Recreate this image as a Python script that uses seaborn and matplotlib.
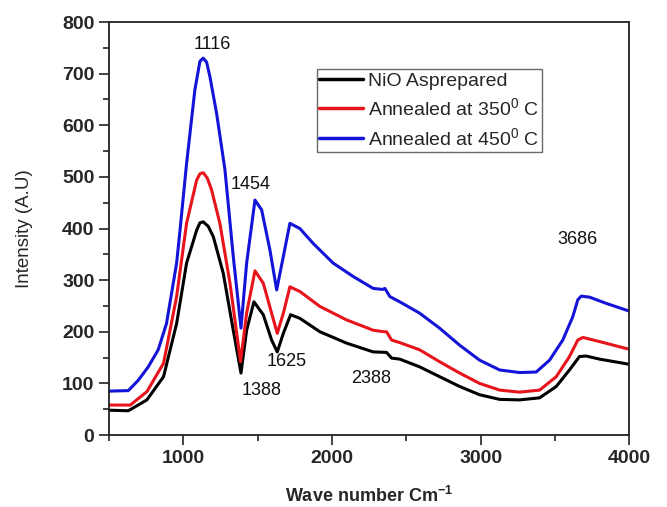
import matplotlib
matplotlib.use("Agg")
import matplotlib.pyplot as plt
import seaborn as sns
import pandas as pd
from matplotlib.ticker import MultipleLocator, FixedLocator

# ---- data ----
x_asprep = [500, 630, 755, 867, 955, 1022, 1090, 1112, 1134, 1168, 1202, 1269, 1336, 1388, 1426,
            1475, 1538, 1594, 1632, 1673, 1722, 1784, 1919, 2098, 2277, 2367, 2401, 2456, 2590,
            2724, 2859, 2993, 3128, 3262, 3397, 3509, 3598, 3665, 3710, 3800, 4000]
y_asprep = [48, 47, 68, 113, 216, 333, 397, 411, 413, 404, 384, 313, 203, 120, 203,
            258, 233, 184, 161, 197, 233, 226, 200, 178, 161, 160, 149, 147, 132,
            113, 94, 78, 69, 68, 72, 94, 126, 152, 153, 147, 137]

x_350 = [500, 643, 755, 867, 955, 1022, 1090, 1112, 1134, 1161, 1190, 1246, 1314, 1385, 1426,
         1482, 1538, 1594, 1632, 1673, 1717, 1784, 1919, 2098, 2277, 2350, 2367, 2401, 2456,
         2590, 2724, 2859, 2993, 3128, 3262, 3397, 3509, 3598, 3654, 3688, 3800, 4000]
y_350 = [58, 58, 84, 139, 268, 410, 494, 506, 508, 498, 475, 410, 294, 142, 236,
         318, 294, 236, 197, 236, 287, 278, 249, 223, 203, 200, 200, 184, 179,
         165, 142, 120, 100, 87, 83, 87, 113, 152, 184, 189, 181, 166]

x_450 = [500, 630, 697, 764, 831, 887, 955, 978, 1022, 1078, 1112, 1134, 1157, 1179, 1224,
         1280, 1336, 1388, 1426, 1482, 1527, 1583, 1628, 1673, 1717, 1784, 1874, 2008, 2143,
         2277, 2340, 2356, 2390, 2456, 2590, 2724, 2859, 2993, 3128, 3262, 3374, 3464, 3553,
         3620, 3654, 3677, 3733, 3845, 4000]
y_450 = [85, 86, 106, 132, 165, 216, 333, 397, 526, 669, 724, 730, 722, 694, 623,
         514, 346, 207, 333, 455, 436, 358, 281, 346, 410, 400, 371, 333, 307,
         284, 282, 284, 268, 258, 236, 207, 174, 145, 126, 121, 122, 145, 184,
         229, 262, 269, 267, 255, 240]

series_names = ["NiO Asprepared", r"Annealed at 350$^{0}$ C", r"Annealed at 450$^{0}$ C"]
series_colors = ["#000000", "#e8141c", "#1414d8"]

peak_labels = ["1116", "1454", "1388", "1625", "2388", "3686"]
peak_label_x = [1197, 1452, 1526, 1698, 2265, 3652]
peak_label_y = [756, 486, 87, 142, 110, 378]

x_ticks = [1000, 2000, 3000, 4000]
y_ticks = [0, 100, 200, 300, 400, 500, 600, 700, 800]

# ---- build tidy frame ----
frames = []
for name, xs, ys in zip(series_names, [x_asprep, x_350, x_450], [y_asprep, y_350, y_450]):
    frames.append(pd.DataFrame({"x": xs, "y": ys, "series": name}))
df = pd.concat(frames, ignore_index=True)

sns.set_style("white")
plt.rcParams["font.family"] = ["Liberation Sans", "DejaVu Sans"]
plt.rcParams["mathtext.fontset"] = "custom"
plt.rcParams["mathtext.rm"] = "Liberation Sans"
plt.rcParams["mathtext.it"] = "Liberation Sans:italic"
plt.rcParams["mathtext.bf"] = "Liberation Sans:bold"

fig = plt.figure(figsize=(6.67, 5.07), dpi=100)
ax = fig.add_axes([0.1634, 0.142, 0.78, 0.8146])

for name, col in zip(series_names, series_colors):
    sub = df[df["series"] == name]
    sns.lineplot(data=sub, x="x", y="y", ax=ax, color=col, lw=2.2, sort=False,
                 estimator=None, label=name)

ax.set_xlim(500, 4000)
ax.set_ylim(0, 800)
ax.xaxis.set_major_locator(FixedLocator(x_ticks))
ax.xaxis.set_minor_locator(FixedLocator([500, 1500, 2500, 3500]))
ax.yaxis.set_major_locator(FixedLocator(y_ticks))
ax.yaxis.set_minor_locator(MultipleLocator(50))

ax.tick_params(which="major", direction="out", length=7, width=1.2, labelsize=14,
               bottom=True, left=True, top=False, right=False, color="#222222")
ax.tick_params(which="minor", direction="out", length=4, width=1.2,
               bottom=True, left=True, top=False, right=False, color="#222222")
for lab in ax.get_xticklabels() + ax.get_yticklabels():
    lab.set_fontweight("bold")

for sp in ax.spines.values():
    sp.set_linewidth(1.3)
    sp.set_color("#222222")

ax.set_xlabel(r"Wave number Cm$^{\mathbf{-1}}$", fontsize=13, fontweight="bold", labelpad=14)
ax.set_ylabel("Intensity (A.U)", fontsize=13.5, labelpad=21)

for t, xv, yv in zip(peak_labels, peak_label_x, peak_label_y):
    ax.text(xv, yv, t, fontsize=13, ha="center", va="center", color="#111111")

leg = ax.legend(loc="upper left", bbox_to_anchor=(0.399, 0.886), borderaxespad=0,
                fontsize=14, frameon=True, fancybox=False, edgecolor="#444444",
                handlelength=2.25, handletextpad=0.25, borderpad=0.15, labelspacing=0.4)
leg.get_frame().set_linewidth(1.0)
for lh in leg.get_lines():
    lh.set_linewidth(2.5)

fig.savefig("out.png", dpi=100)
